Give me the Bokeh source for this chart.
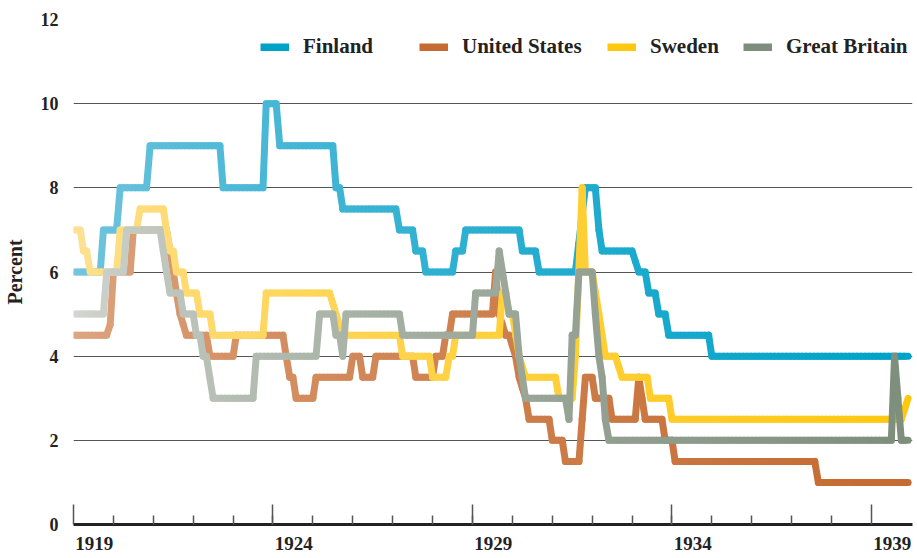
import numpy as np
from bokeh.plotting import figure
from bokeh.models import FixedTicker, Legend, LegendItem, Range1d, LinearAxis
from bokeh.embed import file_html
from bokeh.resources import INLINE

# ---- data: (year, discount rate %) ----
finland = [(1919.0, 6), (1919.67, 6), (1919.75, 7), (1920.08, 7), (1920.17, 8), (1920.83, 8),
           (1920.92, 9), (1922.67, 9), (1922.75, 8), (1923.75, 8), (1923.83, 10), (1924.08, 10),
           (1924.17, 9), (1925.5, 9), (1925.58, 8), (1925.67, 8), (1925.75, 7.5), (1927.08, 7.5),
           (1927.17, 7), (1927.5, 7), (1927.58, 6.5), (1927.75, 6.5), (1927.83, 6), (1928.5, 6),
           (1928.58, 6.5), (1928.75, 6.5), (1928.83, 7), (1930.17, 7), (1930.25, 6.5), (1930.58, 6.5),
           (1930.67, 6), (1931.58, 6), (1931.83, 8), (1932.08, 8), (1932.17, 7), (1932.25, 6.5),
           (1933.0, 6.5), (1933.17, 6), (1933.33, 6), (1933.42, 5.5), (1933.58, 5.5), (1933.67, 5),
           (1933.83, 5), (1933.92, 4.5), (1934.92, 4.5), (1935.0, 4), (1939.92, 4)]

united_states = [(1919.0, 4.5), (1919.83, 4.5), (1919.92, 4.75), (1920.0, 6), (1920.42, 6), (1920.5, 7),
                 (1921.33, 7), (1921.42, 6.5), (1921.5, 6), (1921.58, 5.5), (1921.67, 5), (1921.83, 4.5),
                 (1922.33, 4.5), (1922.42, 4), (1923.0, 4), (1923.08, 4.5), (1924.25, 4.5), (1924.33, 4),
                 (1924.42, 3.5), (1924.5, 3.5), (1924.58, 3), (1925.0, 3), (1925.08, 3.5), (1925.92, 3.5),
                 (1926.0, 4), (1926.17, 4), (1926.25, 3.5), (1926.5, 3.5), (1926.58, 4), (1927.5, 4),
                 (1927.58, 3.5), (1928.0, 3.5), (1928.08, 4), (1928.25, 4), (1928.33, 4.5), (1928.42, 4.5),
                 (1928.5, 5), (1929.5, 5), (1929.58, 6), (1929.67, 5), (1929.83, 4.5), (1929.92, 4.5),
                 (1930.08, 4), (1930.17, 3.5), (1930.33, 3), (1930.42, 2.5), (1930.92, 2.5), (1931.0, 2),
                 (1931.25, 2), (1931.33, 1.5), (1931.67, 1.5), (1931.75, 2.5), (1931.83, 3.5), (1932.0, 3.5),
                 (1932.08, 3), (1932.42, 3), (1932.5, 2.5), (1933.08, 2.5), (1933.17, 3.5), (1933.25, 3),
                 (1933.33, 2.5), (1933.75, 2.5), (1933.83, 2), (1934.0, 2), (1934.08, 1.5), (1937.58, 1.5),
                 (1937.67, 1), (1939.92, 1)]

sweden = [(1919.0, 7), (1919.17, 7), (1919.25, 6.5), (1919.33, 6.5), (1919.42, 6), (1920.08, 6),
          (1920.17, 7), (1920.58, 7), (1920.67, 7.5), (1921.25, 7.5), (1921.33, 7), (1921.42, 6.5),
          (1921.5, 6.5), (1921.58, 6), (1921.75, 6), (1921.83, 5.5), (1922.08, 5.5), (1922.17, 5),
          (1922.42, 5), (1922.5, 4.5), (1923.75, 4.5), (1923.83, 5.5), (1925.42, 5.5), (1925.58, 5),
          (1925.75, 4.5), (1927.17, 4.5), (1927.25, 4), (1927.92, 4), (1928.0, 3.5), (1928.33, 3.5),
          (1928.42, 4), (1928.5, 4), (1928.58, 4.5), (1929.67, 4.5), (1929.75, 5.5), (1929.83, 5.5),
          (1929.92, 5), (1930.0, 5), (1930.17, 4), (1930.33, 3.5), (1931.08, 3.5), (1931.17, 3),
          (1931.5, 3), (1931.58, 4), (1931.75, 8), (1931.83, 6), (1932.0, 6), (1932.17, 5),
          (1932.33, 4), (1932.58, 4), (1932.75, 3.5), (1933.38, 3.5), (1933.46, 3), (1933.92, 3),
          (1934.0, 2.5), (1939.75, 2.5), (1939.92, 3)]

great_britain = [(1919.0, 5), (1919.75, 5), (1919.83, 6), (1920.25, 6), (1920.33, 7), (1921.17, 7),
                 (1921.25, 6.5), (1921.33, 6), (1921.42, 5.5), (1921.67, 5.5), (1921.75, 5), (1922.0, 5),
                 (1922.08, 4.5), (1922.17, 4.5), (1922.25, 4), (1922.33, 4), (1922.5, 3), (1923.5, 3),
                 (1923.58, 4), (1925.08, 4), (1925.17, 5), (1925.5, 5), (1925.58, 4.5), (1925.67, 4.5),
                 (1925.75, 4), (1925.83, 5), (1927.17, 5), (1927.25, 4.5), (1929.0, 4.5), (1929.08, 5.5),
                 (1929.58, 5.5), (1929.67, 6.5), (1929.92, 5), (1930.08, 5), (1930.17, 4), (1930.25, 3.5),
                 (1930.33, 3), (1931.33, 3), (1931.42, 2.5), (1931.5, 4.5), (1931.58, 4.5), (1931.67, 6),
                 (1932.0, 6), (1932.08, 5), (1932.17, 4), (1932.25, 3.5), (1932.33, 2.5), (1932.42, 2),
                 (1939.5, 2), (1939.58, 4), (1939.75, 2), (1939.92, 2)]

series_names = ["Finland", "United States", "Sweden", "Great Britain"]
x_major_ticks = [1919, 1924, 1929, 1934, 1939]
x_tick_labels = ["1919", "1924", "1929", "1934", "1939"]
x_minor_ticks = list(range(1920, 1939))
y_ticks = [0, 2, 4, 6, 8, 10, 12]

# ---- styling ----
light_colors = ["#7cc7e0", "#dfa985", "#fde29a", "#d6dad5"]
full_colors = ["#00a2c8", "#c56a30", "#ffc80f", "#7e8e7c"]
FONT = "Liberation Serif"
X0, X1 = 1919.0, 1940.03
FIG_W, BORDER_L, BORDER_R = 914, 65, 2


def hex2rgb(h):
    h = h.lstrip("#")
    return np.array([int(h[i:i + 2], 16) for i in (0, 2, 4)], dtype=float)


def mix(c0, c1, f):
    a, b = hex2rgb(c0), hex2rgb(c1)
    c = a + (b - a) * f
    return "#%02x%02x%02x" % tuple(int(round(v)) for v in c)


def gradient_pieces(pts, c0, c1, step=0.1):
    xs, ys, cs = [], [], []
    for (t0, v0), (t1, v1) in zip(pts[:-1], pts[1:]):
        n = max(1, int(np.ceil((t1 - t0) / step)))
        for k in range(n):
            fa, fb = k / n, (k + 1) / n
            a, b = t0 + (t1 - t0) * fa, t0 + (t1 - t0) * fb
            xs.append([a, b])
            ys.append([v0 + (v1 - v0) * fa, v0 + (v1 - v0) * fb])
            f = min(1.0, max(0.0, ((a + b) / 2 - X0) / (1940 - X0)))
            cs.append(mix(c0, c1, f ** 0.6))
    return xs, ys, cs


p = figure(width=FIG_W, height=558, x_range=Range1d(X0, X1), y_range=Range1d(0, 12),
           output_backend="svg", toolbar_location=None,
           min_border_left=BORDER_L, min_border_right=BORDER_R, min_border_top=19, min_border_bottom=34)
p.outline_line_color = None
p.background_fill_color = "white"

all_series = [finland, united_states, sweden, great_britain]
legend_renderers = []
for name, pts, c0, c1 in zip(series_names, all_series, light_colors, full_colors):
    xs, ys, cs = gradient_pieces(pts, c0, c1)
    p.multi_line(xs=xs, ys=ys, line_color=cs, line_width=7, line_cap="round", line_join="round")
    r = p.line(x=[np.nan], y=[np.nan], line_color=c1, line_width=8, line_cap="butt")
    legend_renderers.append(r)

# legends placed individually
legend_x = [187, 346, 534, 670]
for name, r, lx in zip(series_names, legend_renderers, legend_x):
    leg = Legend(items=[LegendItem(label=name, renderers=[r])], location=(lx, 465),
                 orientation="horizontal", glyph_width=29, glyph_height=8, label_standoff=14,
                 padding=0, margin=0, border_line_alpha=0, background_fill_alpha=0,
                 label_text_font=FONT, label_text_font_size="21px", label_text_font_style="bold",
                 label_text_color="#222222")
    p.add_layout(leg)

# main x axis: line + ticks (no labels)
ax = p.xaxis[0]
ax.ticker = FixedTicker(ticks=x_major_ticks, minor_ticks=x_minor_ticks)
ax.axis_line_width = 3
ax.axis_line_color = "#222222"
ax.major_tick_in = 20
ax.major_tick_out = 0
ax.minor_tick_in = 9
ax.minor_tick_out = 0
ax.major_tick_line_color = "#555555"
ax.minor_tick_line_color = "#555555"
ax.major_tick_line_width = 1.5
ax.minor_tick_line_width = 1.5
ax.major_label_text_color = None
ax.major_label_text_font_size = "1px"
ax.major_label_standoff = 0

# second axis carrying the year labels, shifted so each label starts at its tick
px_per_year = (FIG_W - BORDER_L - BORDER_R) / (X1 - X0)
shift = round(21.0 / px_per_year, 3)
label_ticks = [round(t + shift, 3) for t in x_major_ticks]
ax2 = LinearAxis(ticker=FixedTicker(ticks=label_ticks, minor_ticks=[]),
                 major_label_overrides={k: v for k, v in zip(label_ticks, x_tick_labels)},
                 axis_line_color=None, major_tick_line_color=None, minor_tick_line_color=None,
                 major_tick_in=0, major_tick_out=0, minor_tick_in=0, minor_tick_out=0,
                 major_label_standoff=12, major_label_text_font=FONT, major_label_text_font_size="19px",
                 major_label_text_font_style="bold", major_label_text_color="#222222")
p.add_layout(ax2, "below")

p.yaxis.ticker = FixedTicker(ticks=y_ticks)
p.yaxis.axis_line_color = None
p.yaxis.major_tick_line_color = None
p.yaxis.minor_tick_line_color = None
p.yaxis.major_label_standoff = 9
p.yaxis.major_label_text_font = FONT
p.yaxis.major_label_text_font_size = "18px"
p.yaxis.major_label_text_font_style = "bold"
p.yaxis.major_label_text_color = "#222222"
p.yaxis.axis_label = "Percent"
p.yaxis.axis_label_text_font = FONT
p.yaxis.axis_label_text_font_size = "20px"
p.yaxis.axis_label_text_font_style = "bold"
p.yaxis.axis_label_text_color = "#222222"
p.yaxis.axis_label_standoff = 12

p.xgrid.visible = False
p.ygrid.ticker = FixedTicker(ticks=y_ticks[1:])
p.ygrid.grid_line_color = "#555555"
p.ygrid.grid_line_width = 1

open("out.html", "w").write(file_html(p, INLINE))
